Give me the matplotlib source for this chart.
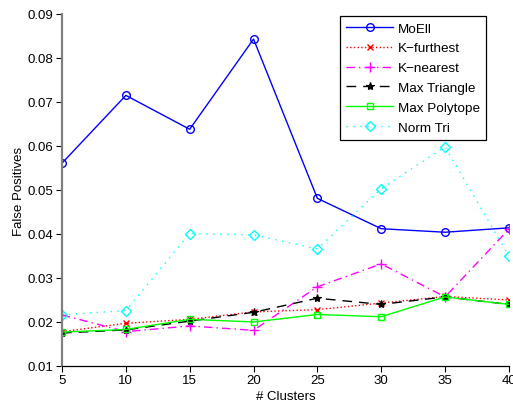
import matplotlib
matplotlib.use("Agg")
import matplotlib.pyplot as plt

clusters = [5, 10, 15, 20, 25, 30, 35, 40]

moell = [0.0561, 0.0715, 0.0638, 0.0843, 0.0481, 0.0412, 0.0404, 0.0414]
k_furthest = [0.0178, 0.0197, 0.0206, 0.0223, 0.0228, 0.0243, 0.0258, 0.0250]
k_nearest = [0.0216, 0.0178, 0.0191, 0.0181, 0.0280, 0.0332, 0.0257, 0.0411]
max_triangle = [0.0175, 0.0182, 0.0202, 0.0222, 0.0254, 0.0240, 0.0257, 0.0240]
max_polytope = [0.0177, 0.0183, 0.0206, 0.0200, 0.0217, 0.0212, 0.0257, 0.0240]
norm_tri = [0.0216, 0.0226, 0.0401, 0.0398, 0.0366, 0.0503, 0.0598, 0.0350]

plt.rcParams.update({
    "font.family": ["Liberation Sans", "DejaVu Sans"],
    "font.size": 9.5,
})

fig = plt.figure(figsize=(5.13, 4.02), dpi=100)
ax = fig.add_axes([0.1209, 0.0871, 0.8711, 0.8756])

lw = 1.0
ax.plot(clusters, moell, color="#0000ff", ls="-", lw=lw, marker="o",
        ms=5.5, mfc="none", mew=1.0, label="MoEll")
ax.plot(clusters, k_furthest, color="#ff0000", ls=":", lw=lw, marker="x",
        ms=5, mew=1.0, label="K\u2212furthest")
ax.plot(clusters, k_nearest, color="#ff00ff", ls=(0, (6, 3, 1, 3)), lw=lw, marker="+",
        ms=6.5, mew=1.0, label="K\u2212nearest")
ax.plot(clusters, max_triangle, color="black", ls=(0, (7, 5)), lw=lw, marker="*",
        ms=6, mew=0.8, label="Max Triangle")
ax.plot(clusters, max_polytope, color="#00ff00", ls="-", lw=lw, marker="s",
        ms=4.8, mfc="none", mew=1.0, label="Max Polytope")
ax.plot(clusters, norm_tri, color="#00ffff", ls=(0, (1, 4)), lw=lw, marker="D",
        ms=5, mfc="none", mew=1.0, label="Norm Tri")

ax.set_xlim(5, 40)
ax.set_ylim(0.01, 0.09)
ax.set_xticks(clusters)
ax.set_yticks([0.01, 0.02, 0.03, 0.04, 0.05, 0.06, 0.07, 0.08, 0.09])
ax.set_yticklabels(["0.01", "0.02", "0.03", "0.04", "0.05", "0.06",
                    "0.07", "0.08", "0.09"])
ax.tick_params(direction="out", length=4, width=0.8, colors="black",
               labelsize=9.5, pad=2)

ax.spines["top"].set_visible(False)
ax.spines["right"].set_visible(False)
ax.spines["left"].set_color("#808080")
ax.spines["left"].set_linewidth(1.6)
ax.spines["bottom"].set_linewidth(0.9)

ax.set_xlabel("# Clusters", fontsize=9.5, labelpad=3)
ax.set_ylabel("False Positives", fontsize=9.5, labelpad=2)

leg = ax.legend(loc="upper right", bbox_to_anchor=(0.9485, 0.994),
                borderaxespad=0, fancybox=False, framealpha=1,
                edgecolor="black", handlelength=3.5, handletextpad=0.35,
                borderpad=0.45, labelspacing=0.55, fontsize=9.7)
leg.get_frame().set_linewidth(0.9)

fig.savefig("out.png", dpi=100)
